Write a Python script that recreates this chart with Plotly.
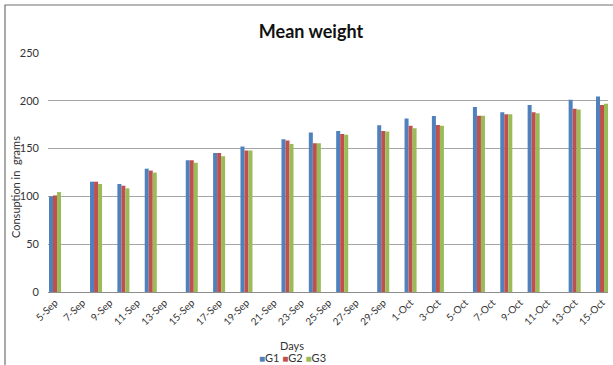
import plotly.graph_objects as go

days = ["2011-09-05", "2011-09-08", "2011-09-10", "2011-09-12", "2011-09-15", "2011-09-17",
        "2011-09-19", "2011-09-22", "2011-09-24", "2011-09-26", "2011-09-29", "2011-10-01",
        "2011-10-03", "2011-10-06", "2011-10-08", "2011-10-10", "2011-10-13", "2011-10-15"]
g1 = [100, 115.4, 113, 129, 137.8, 145.5, 152.1, 159.8, 166.8, 168.5, 174.5, 181.5,
      184, 193.4, 188.1, 195.5, 201, 204.6]
g2 = [101, 115.4, 111.2, 127, 137.8, 145.5, 148, 158.4, 155.6, 165.4, 168.5, 173.8,
      174.8, 184.3, 186, 188.1, 191.6, 195.5]
g3 = [104.5, 113, 108.4, 124.9, 135.3, 142, 148, 154.9, 155.6, 164.4, 168, 171.4,
      173.8, 184.3, 186, 187.1, 191, 196.9]
series_names = ["G1", "G2", "G3"]
colors = ["#4F81BD", "#C0504D", "#9BBB59"]
y_ticks = [0, 50, 100, 150, 200, 250]

FONT = "Lato, 'Open Sans', sans-serif"

fig = go.Figure()
for name, vals, c in zip(series_names, [g1, g2, g3], colors):
    fig.add_trace(go.Bar(x=days, y=vals, name=name, marker=dict(color=c, line=dict(width=0))))

fig.update_layout(
    width=613, height=365,
    margin=dict(l=48, r=5, t=53, b=73, autoexpand=False),
    paper_bgcolor="white", plot_bgcolor="white",
    barmode="group", bargap=0.56, bargroupgap=0,
    font=dict(family=FONT, size=11, color="#333"),
    title=dict(text="<b>Mean weight</b>", x=311 / 613, xanchor="center",
               y=1 - 32 / 365, yanchor="middle",
               font=dict(family=FONT, size=18, color="#111")),
    showlegend=False,
)
fig.update_xaxes(
    type="date", automargin=False,
    range=["2011-09-04 11:40", "2011-10-15 10:30"],
    tick0="2011-09-05", dtick=2 * 86400000,
    tickformat="%-d-%b", tickangle=-45,
    tickfont=dict(family=FONT, size=10, color="#333"),
    showgrid=False, showline=True, linecolor="#8c8c8c", linewidth=1,
    ticks="", zeroline=False,
)
fig.update_yaxes(
    range=[0, 250], tickvals=y_ticks, automargin=False,
    tickfont=dict(family=FONT, size=11, color="#333"),
    showgrid=True, gridcolor="#a6a6a6", gridwidth=1,
    showline=False, zeroline=False, ticks="", ticklabelstandoff=8,
)
fig.add_annotation(text="Consuption in  grams", textangle=-90, xref="paper", yref="paper",
                   x=(15 - 48) / 560, y=(292 - 187) / 239, xanchor="center", yanchor="middle",
                   showarrow=False, font=dict(family=FONT, size=11, color="#333"))
fig.add_annotation(text="Days", xref="paper", yref="paper",
                   x=(292 - 48) / 560, y=-(345 - 292) / 239, xanchor="center", yanchor="middle",
                   showarrow=False, font=dict(family=FONT, size=11, color="#333"))
legend_text = " ".join(
    f"<span style='color:{c}; font-size:10px'>■</span>{n}" for n, c in zip(series_names, colors)
)
fig.add_annotation(text=legend_text, xref="paper", yref="paper",
                   x=(292 - 48) / 560, y=-(357 - 292) / 239, xanchor="center", yanchor="middle",
                   showarrow=False, font=dict(family=FONT, size=11, color="#333"))
fig.add_shape(type="rect", xref="paper", yref="paper",
              x0=(5 - 48) / 560, x1=(640 - 48) / 560,
              y0=-(380 - 292) / 239, y1=(292 - 5) / 239,
              line=dict(color="#707070", width=1.2), layer="below")

fig.write_html("out.html", config={"displayModeBar": False},
               post_script="document.body.style.margin='0';document.body.style.padding='0';")
